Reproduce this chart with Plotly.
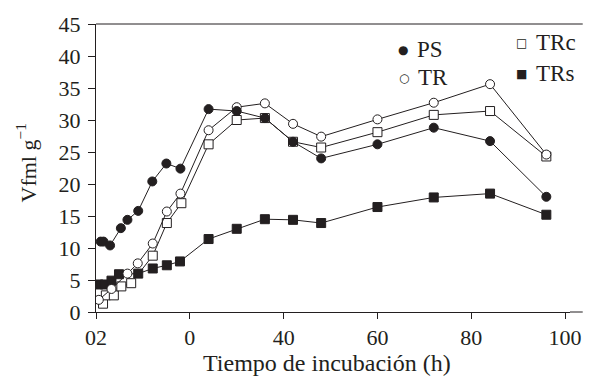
import plotly.graph_objects as go

# Data
ps_t = [1, 1.6, 3, 5.3, 6.7, 9, 12, 15, 18, 24, 30, 36, 42, 48, 60, 72, 84, 96]
ps_v = [11.0, 11.0, 10.4, 13.1, 14.4, 15.8, 20.4, 23.2, 22.4, 31.7, 31.4, 30.3, 26.6, 24.0, 26.2, 28.8, 26.7, 18.0]

tr_t = [0.6, 3.3, 6.7, 8.9, 12.1, 15.1, 18, 24, 30, 36, 42, 48, 60, 72, 84, 96]
tr_v = [1.9, 3.6, 6.0, 7.6, 10.7, 15.7, 18.5, 28.4, 32.0, 32.6, 29.4, 27.4, 30.1, 32.7, 35.6, 24.6]

trc_t = [1.5, 2.1, 3.8, 5.4, 7.5, 12.1, 15.1, 18.2, 24, 30, 36, 42, 48, 60, 72, 84, 96]
trc_v = [1.3, 2.6, 2.6, 4.0, 4.5, 8.8, 13.9, 17.0, 26.2, 30.0, 30.3, 26.6, 25.7, 28.1, 30.8, 31.4, 24.3]

trs_t = [0.5, 1.9, 3.3, 4.9, 9, 12.1, 15.1, 17.9, 24, 30, 36, 42, 48, 60, 72, 84, 96]
trs_v = [4.3, 4.3, 4.9, 5.9, 6.0, 6.8, 7.3, 7.9, 11.4, 13.0, 14.5, 14.4, 13.9, 16.4, 17.9, 18.5, 15.2]

x_tickvals = [0, 20, 40, 60, 80, 100]
x_ticktext = ["02", "0", "40", "60", "80", "100"]
y_tickvals = [0, 5, 10, 15, 20, 25, 30, 35, 40, 45]

FONT = "Liberation Serif, Times New Roman, serif"
INK = "#231f20"

L, R, T, B = 96, 14, 22, 73
W, H = 594, 385
PW, PH = W - L - R, H - T - B
X_MAX = PW / 4.79

fig = go.Figure()

def add(t, v, symbol, fill, name):
    fig.add_trace(go.Scatter(
        x=t, y=v, mode="lines+markers", name=name, showlegend=False,
        line=dict(color=INK, width=1),
        marker=dict(symbol=symbol, size=9, color=fill,
                    line=dict(color=INK, width=1)),
    ))

add(trs_t, trs_v, "square", INK, "TRs")
add(trc_t, trc_v, "square", "white", "TRc")
add(tr_t, tr_v, "circle", "white", "TR")
add(ps_t, ps_v, "circle", INK, "PS")

fig.update_layout(
    width=W, height=H,
    margin=dict(l=L, r=R, t=T, b=B),
    paper_bgcolor="white", plot_bgcolor="white",
    font=dict(family=FONT, size=22, color=INK),
    showlegend=False,
)
fig.update_xaxes(
    range=[0, X_MAX], tickvals=x_tickvals, ticktext=x_ticktext,
    showline=True, linecolor=INK, linewidth=1,
    ticks="outside", ticklen=6, tickcolor=INK, tickwidth=1,
    showgrid=False, zeroline=False,
    tickfont=dict(family=FONT, size=22, color=INK),
)
fig.update_yaxes(
    range=[0, 45], tickvals=y_tickvals,
    showline=True, linecolor=INK, linewidth=1,
    ticks="outside", ticklen=7, tickcolor=INK, tickwidth=1,
    ticklabelstandoff=3,
    showgrid=False, zeroline=False,
    tickfont=dict(family=FONT, size=22, color=INK),
)

def px_x(p):
    return (p - L) / PW
def px_y(p):
    return (H - B - p) / PH

# top frame line and extension of bottom axis to the right edge
fig.add_shape(type="line", xref="paper", yref="paper", x0=0, x1=px_x(593), y0=1, y1=1,
              line=dict(color=INK, width=1))
fig.add_shape(type="line", xref="paper", yref="paper", x0=1, x1=px_x(593), y0=0, y1=0,
              line=dict(color=INK, width=1))

# axis titles
fig.add_annotation(text="Tiempo de incubación (h)", xref="paper", yref="paper",
                   x=px_x(332), y=px_y(363), showarrow=False,
                   font=dict(family=FONT, size=24, color=INK),
                   xanchor="center", yanchor="middle")
fig.add_annotation(text="Vfml g<sup>−1</sup>", xref="paper", yref="paper",
                   x=px_x(25), y=px_y(162), showarrow=False,
                   textangle=-90,
                   font=dict(family=FONT, size=22, color=INK),
                   xanchor="center", yanchor="middle")

# legend (glyph + label)
legend_items = [
    ("●", "PS", 409, 48),
    ("○", "TR", 410, 76),
    ("□", "TRc", 530, 41),
    ("■", "TRs", 530, 72),
]
for glyph, label, gx, gy in legend_items:
    fig.add_annotation(text=glyph, xref="paper", yref="paper",
                       x=px_x(gx), y=px_y(gy), showarrow=False,
                       font=dict(family="DejaVu Sans", size=12, color=INK),
                       xanchor="center", yanchor="middle")
    fig.add_annotation(text=label, xref="paper", yref="paper",
                       x=px_x(gx + 13), y=px_y(gy), showarrow=False,
                       font=dict(family=FONT, size=23, color=INK),
                       xanchor="left", yanchor="middle")

fig.write_html("out.html", post_script="document.body.style.margin='0';",
               config={"displayModeBar": False})
